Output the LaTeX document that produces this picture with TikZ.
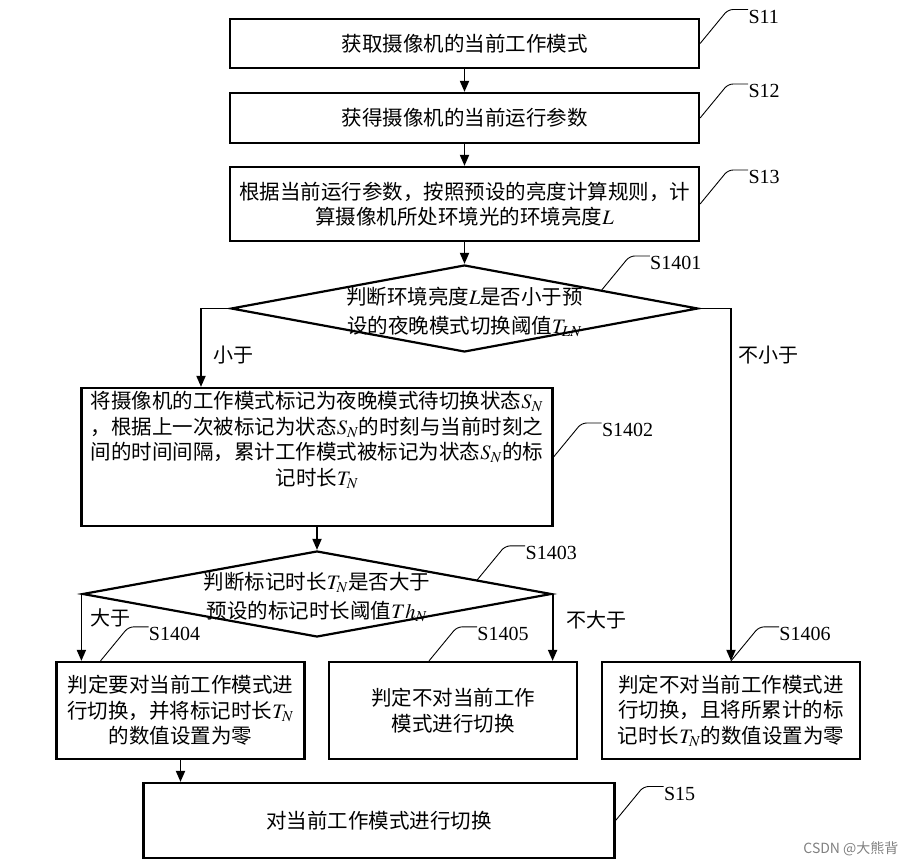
\documentclass[tikz,border=0pt]{standalone}
\usepackage{mathptmx}
\usepackage{fontspec}
\setmainfont{Liberation Serif}
\newfontfamily\cjk{Noto Sans CJK SC}
\usetikzlibrary{shapes.geometric,arrows.meta,calc}

\begin{document}
\begin{tikzpicture}[x=1pt,y=-1pt,
		txt/.style={inner sep=0pt,align=center,font=\cjk\fontsize{20.5}{25.5}\selectfont},
		box/.style={txt,draw,line width=2.2pt},
		decision/.style={draw,diamond,line width=2.2pt,inner sep=0pt},
		flow/.style={line width=1.8pt,-{Triangle[length=11pt,width=9pt]}},
		lead/.style={line width=0.9pt,rounded corners=5pt},
		steptag/.style={font=\fontsize{20}{24}\selectfont,anchor=north west,inner sep=0pt},
		word/.style={font=\cjk\fontsize{20}{24}\selectfont}]
	\useasboundingbox (0,0) rectangle (910,866);

	\node[box,minimum width=469pt,minimum height=49pt] (s11) at (464.5,43.5) {获取摄像机的当前工作模式};
	\node[box,minimum width=469pt,minimum height=50pt] (s12) at (464.5,118) {获得摄像机的当前运行参数};
	\node[box,minimum width=469pt,minimum height=74pt] (s13) at (464.5,204) {根据当前运行参数，按照预设的亮度计算规则，计\\算摄像机所处环境光的环境亮度$L$};
	\node[decision,minimum width=467pt,minimum height=87pt] (d1) at (464.5,308.5) {};
	\node[txt] (d1t) at (464.5,312) {判断环境亮度$L$是否小于预\\[4pt]设的夜晚模式切换阈值$T_{LN}$};
	\node[box,minimum width=471pt,minimum height=138pt] (s1402) at (317,457) {};
	\node[txt] (s1402t) at (317,440) {将摄像机的工作模式标记为夜晚模式待切换状态$S_N$\\，根据上一次被标记为状态$S_N$的时刻与当前时刻之\\间的时间间隔，累计工作模式被标记为状态$S_N$的标\\记时长$T_N$};
	\node[decision,minimum width=469pt,minimum height=86pt] (d2) at (317,594) {};
	\node[txt] (d2t) at (317,597) {判断标记时长$T_N$是否大于\\[3pt]预设的标记时长阈值$Th_N$};
	\node[box,minimum width=248pt,minimum height=97pt] (s1404) at (180.5,710.5) {判定要对当前工作模式进\\行切换，并将标记时长$T_N$\\的数值设置为零};
	\node[box,minimum width=248pt,minimum height=97pt] (s1405) at (453,710.5) {判定不对当前工作\\模式进行切换};
	\node[box,minimum width=258pt,minimum height=97pt] (s1406) at (731,710.5) {判定不对当前工作模式进\\行切换，且将所累计的标\\记时长$T_N$的数值设置为零};
	\node[box,minimum width=471pt,minimum height=75pt] (s15) at (379,820.5) {对当前工作模式进行切换};

	\draw[flow] (s11) -- (s12);
	\draw[flow] (s12) -- (s13);
	\draw[flow] (s13) -- (d1);
	\draw[flow] (d1.west) -| ([xshift=-116pt]s1402.north);
	\draw[flow] (d1.east) -| (s1406.north);
	\draw[flow] (s1402) -- (d2);
	\draw[flow] (d2.west) -- (d2.west |- s1404.north);
	\draw[flow] (d2.east) -- (d2.east |- s1405.north);
	\draw[flow] (s1404.south) -- (s1404.south |- s15.north);

	\node[word] (less) at (233,355) {小于};
	\node[word] (notless) at (768,355) {不小于};
	\node[word] (more) at (110,618) {大于};
	\node[word] (notmore) at (596,620) {不大于};

	\coordinate (p1401) at ($(d1.north)!0.585!(d1.east)$);
	\coordinate (p1403) at ($(d2.north)!0.68!(d2.east)$);
	\coordinate (p1404) at ([xshift=-80pt]s1404.north);
	\coordinate (p1405) at ([xshift=-24pt]s1405.north);
	\foreach \from/\name in {s11.east/S11, s12.east/S12, s13.east/S13, p1401/S1401, s1402.east/S1402,
			p1403/S1403, p1404/S1404, p1405/S1405, s1406.north/S1406, s15.east/S15}
		\draw[lead] (\from) -- ++(28,-34) -- ++(20,0) node[steptag] (l\name) {\name};

	\node[font=\cjk\fontsize{14}{14}\selectfont,text=gray,anchor=east] (mark) at (902,849) {CSDN @大熊背};
\end{tikzpicture}
\end{document}
